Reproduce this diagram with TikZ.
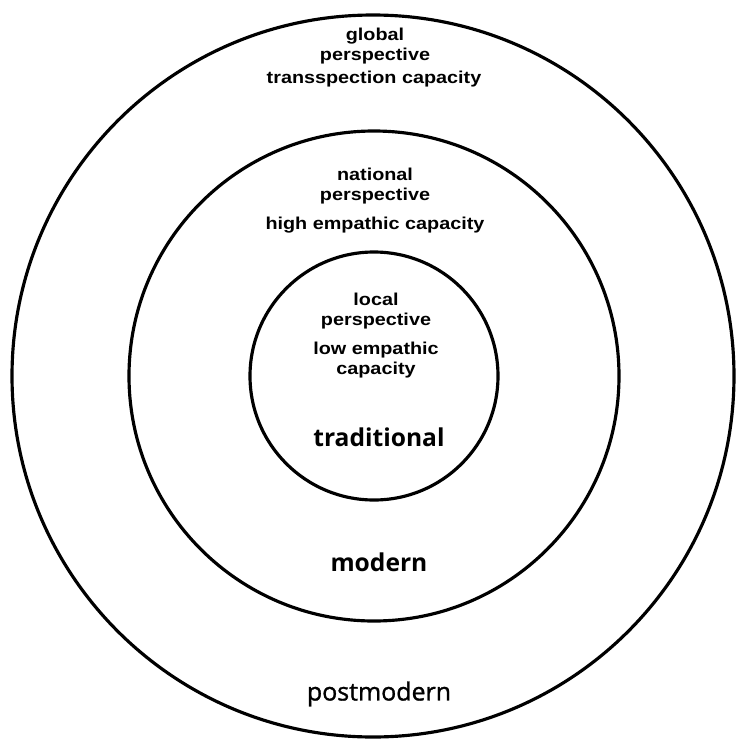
\documentclass[tikz,border=0pt]{standalone}
\usepackage{fontspec}
\newfontfamily\traitfont[FakeStretch=1.15]{Liberation Sans}
\newfontfamily\stagefont{Open Sans}
\newfontfamily\postfont[FakeBold=1.2]{Open Sans}
\usetikzlibrary{calc}

\tikzset{
  ring/.style={line width=1.8pt, black},
  trait/.style={font=\traitfont\bfseries\fontsize{9.8}{11.6}\selectfont, align=center, inner sep=0pt},
  stage/.style={font=\stagefont\bfseries\fontsize{14}{16}\selectfont, inner sep=0pt},
}

\begin{document}
\begin{tikzpicture}[x=0.02cm, y=-0.02cm]
\def\rIn{124}
\def\rMid{245}
\def\rOut{361}

\useasboundingbox (0,0) rectangle (737,741);

\coordinate (O) at (374,376);
\coordinate (Oout) at (373,376);

% Three concentric rings
\draw[ring] (Oout) circle[radius=\rOut];
\draw[ring] (O) circle[radius=\rMid];
\draw[ring] (O) circle[radius=\rIn];

% Outer ring
\node[trait] (globalp) at (375,46) {global\\perspective};
\node[trait] (transcap) at (374,79) {transspection capacity};
\node[stage, font=\postfont\fontsize{14.2}{16}\selectfont] (postmod) at (379,694) {postmodern};

% Middle ring
\node[trait] (nationalp) at (375,186) {national\\perspective};
\node[trait] (highcap) at (375,225) {high empathic capacity};
\node[stage] (mod) at (379,562) {modern};

% Inner ring
\node[trait] (localp) at (376,311) {local\\perspective};
\node[trait] (lowcap) at (376,360) {low empathic\\capacity};
\node[stage] (trad) at (379,437) {traditional};
\end{tikzpicture}
\end{document}
